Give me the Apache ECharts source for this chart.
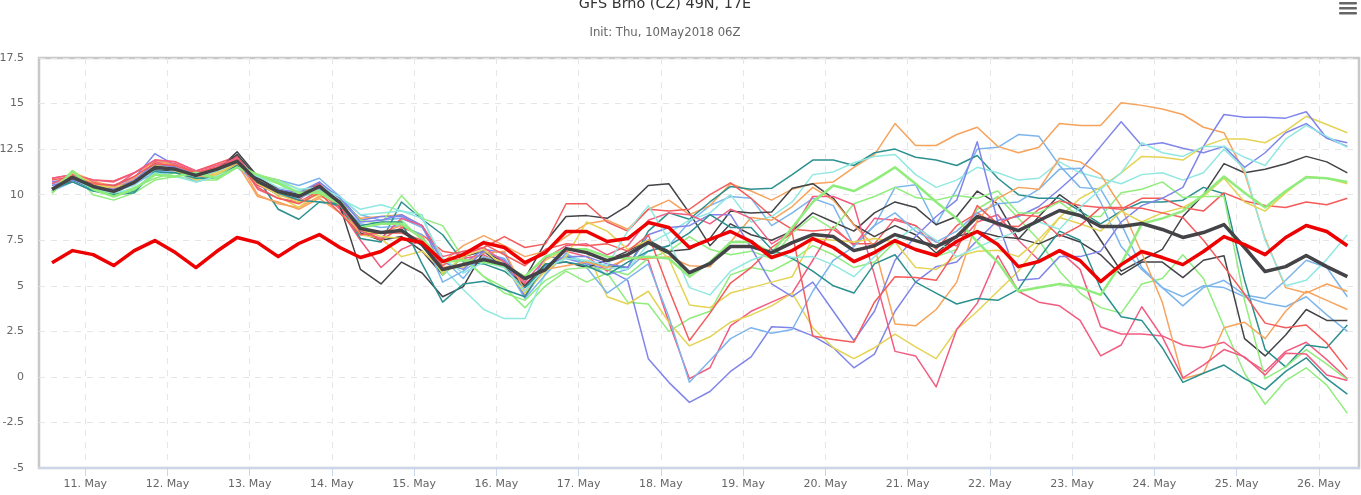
<!DOCTYPE html>
<html>
<head>
<meta charset="utf-8">
<title>GFS Brno</title>
<script src="https://cdn.jsdelivr.net/npm/echarts@6/dist/echarts.min.js"></script>
<style>
  html, body { margin: 0; padding: 0; background: #fff; }
  #chart { width: 1361px; height: 495px; }
</style>
</head>
<body>
<div id="chart"></div>
<script>
// hours after 11 May 00 local, one forecast step every 6 h
const firstHour = -9.7
const stepHours = 6
const dayTicks = [0, 24, 48, 72, 96, 120, 144, 168, 192, 216, 240, 264, 288, 312, 336, 360]
const dayLabels = ['11. May', '12. May', '13. May', '14. May', '15. May', '16. May', '17. May', '18. May',
  '19. May', '20. May', '21. May', '22. May', '23. May', '24. May', '25. May', '26. May']

const blue1 = [10.6,10.9,10.3,10.0,10.7,11.3,11.3,10.8,11.3,11.6,11.0,10.8,10.5,10.9,9.9,
  8.9,8.6,8.7,8.2,6.5,5.4,6.8,6.5,4.9,5.9,6.7,6.3,5.6,5.9,
  6.9,7.2,8.5,9.4,9.9,9.8,8.3,9.0,9.8,9.4,7.2,8.3,10.4,10.55,8.35,10.3,12.5,12.6,13.3,13.2,11.6,10.4,10.3,8.4,
  6.0,4.9,3.9,4.9,5.3,4.5,4.3,5.3,6.4,6.0,4.4]
const dark1 = [10.2,10.9,10.5,10.2,10.6,11.4,11.3,11.1,11.3,12.35,11.0,10.2,9.9,10.4,9.3,
  7.9,7.5,7.7,6.9,5.6,6.6,6.9,6.3,5.4,7.4,8.8,8.85,8.7,9.4,
  10.5,10.6,9.0,7.2,8.4,7.8,7.5,8.0,9.0,8.5,8.0,9.0,9.6,9.3,8.35,8.8,10.2,9.5,7.55,8.8,10.0,9.2,7.5,5.8,
  6.4,7.0,8.8,10.0,11.7,11.2,11.4,11.7,12.1,11.8,11.2]
const green2 = [10.1,11.2,10.0,9.7,10.1,10.8,11.0,10.8,10.8,11.5,11.0,10.6,10.0,10.0,9.6,
  8.0,7.6,8.6,7.5,5.6,6.6,5.5,4.9,3.8,5.0,5.8,5.2,5.7,4.1,
  4.0,2.5,3.2,3.6,5.6,6.0,5.8,6.4,7.2,6.7,6.0,6.3,7.4,7.0,6.6,7.0,9.2,9.9,8.7,7.5,5.8,4.6,3.8,3.5,
  5.1,5.4,6.7,5.4,2.75,0.2,-1.5,-0.2,0.5,-0.45,-2.0]
const orange1 = [10.3,11.0,10.7,10.5,10.7,11.8,11.5,11.2,11.2,12.0,10.0,9.5,9.3,9.9,9.6,
  8.7,8.8,8.9,8.3,6.3,7.2,7.75,7.2,6.6,6.9,7.7,8.4,8.6,8.1,
  9.2,9.7,8.9,9.4,10.6,10.2,9.7,10.3,10.6,10.7,11.5,12.2,13.9,12.7,12.7,13.3,13.7,12.65,12.3,12.6,13.9,13.8,13.8,15.05,
  14.9,14.7,14.4,13.7,13.4,11.2,7.6,4.9,4.6,5.1,4.7]
const purple1 = [10.7,10.9,10.6,10.5,10.9,12.25,11.6,11.0,11.3,12.1,10.7,10.0,10.0,10.5,9.9,
  8.6,8.8,8.8,8.3,5.9,6.2,7.0,6.8,4.6,6.6,6.5,6.2,5.9,5.3,
  1.0,-0.3,-1.4,-0.8,0.3,1.1,2.75,2.7,2.25,1.6,0.5,1.25,3.6,5.2,6.05,6.3,7.5,8.6,8.8,9.35,10.3,11.3,12.65,14.0,
  12.7,12.85,12.55,12.3,12.65,11.5,12.3,13.4,13.9,13.1,12.85]
const pink1 = [10.6,11.1,10.7,10.4,11.2,11.8,11.7,11.2,11.5,12.0,10.3,9.8,9.6,10.2,9.2,
  7.5,6.0,7.0,7.5,6.3,6.5,6.7,6.1,5.1,6.0,6.9,6.6,5.8,6.6,
  6.4,3.0,-0.1,0.5,2.8,3.6,4.1,4.6,6.4,8.25,7.2,8.7,8.6,8.3,7.4,7.2,8.5,8.9,7.5,6.4,6.9,5.9,2.75,2.35,
  2.35,2.25,1.75,1.6,1.9,1.05,0.3,1.4,1.9,0.95,-0.1]
const yellow1 = [10.3,11.3,10.6,10.3,10.8,11.7,11.3,10.9,11.2,11.9,10.9,9.9,9.3,10.2,9.4,
  7.8,7.6,6.6,6.9,5.9,6.0,6.6,6.3,4.5,6.4,7.0,6.9,4.4,4.0,
  4.7,3.0,1.7,2.2,3.0,3.4,3.9,4.6,2.7,1.6,1.0,1.6,2.35,1.65,1.0,2.6,3.6,4.7,5.8,7.3,8.75,9.8,10.4,11.2,
  12.1,12.05,11.9,12.65,13.05,13.05,12.85,13.5,14.3,13.85,13.4]
const teal1 = [10.2,10.8,10.3,10.0,10.1,11.3,11.2,10.9,11.0,11.6,10.9,9.2,8.65,9.6,9.4,
  7.6,7.4,9.6,8.65,7.8,6.3,6.2,5.8,4.9,6.0,6.6,6.3,6.1,6.0,
  8.0,9.0,8.65,9.6,10.45,10.3,10.35,11.1,11.9,11.9,11.6,12.3,12.5,12.05,11.9,11.6,12.15,10.9,10.0,9.8,9.8,9.1,8.4,9.1,
  9.6,9.6,9.7,10.4,10.05,5.3,1.5,0.55,1.75,1.6,2.85]
const red1 = [10.9,11.1,10.8,10.75,11.2,11.9,11.8,11.3,11.7,12.1,10.6,10.0,9.7,10.6,9.3,
  8.1,7.5,8.2,7.8,6.9,6.7,7.1,7.7,7.1,7.3,9.5,9.5,8.5,8.0,
  9.2,9.1,9.2,10.0,10.65,9.8,8.8,8.1,8.0,8.1,7.3,7.3,8.7,8.3,7.0,8.3,9.0,8.3,8.25,9.2,9.65,9.4,9.3,9.2,
  9.8,9.8,9.3,9.1,10.1,9.65,9.4,9.3,9.6,9.45,9.8]
const cyan1 = [10.3,11.0,10.5,10.2,10.5,11.4,11.4,10.9,11.3,11.7,11.0,10.4,10.2,10.6,9.8,
  9.2,9.45,9.1,8.9,6.0,4.8,3.7,3.2,3.2,5.7,6.7,6.3,6.0,5.9,
  7.3,7.9,8.6,9.0,10.0,8.5,8.8,9.6,11.1,11.25,11.75,12.1,12.2,11.1,10.4,10.8,11.5,11.2,10.8,10.9,11.8,11.2,10.9,10.6,
  11.1,11.2,10.8,11.2,12.5,11.4,7.5,5.0,5.3,6.45,7.8]
const blue2 = [10.2,10.7,10.2,10.1,10.6,11.2,11.3,10.7,11.0,11.5,10.6,10.0,9.8,10.3,9.5,
  8.4,8.2,8.3,7.8,5.2,5.8,6.6,6.2,4.3,5.6,6.8,6.0,4.6,5.4,
  6.2,3.3,-0.3,0.9,2.1,2.7,2.4,2.6,4.7,6.4,7.15,8.3,9.0,8.0,7.4,8.0,9.0,9.5,9.6,10.3,11.4,11.45,9.6,7.15,
  5.9,4.9,4.4,5.0,4.9,4.4,4.05,3.85,4.4,3.4,2.5]
const dark2 = [10.3,10.8,10.4,10.1,10.7,11.4,11.5,11.0,11.4,12.2,10.9,10.3,10.0,10.6,9.4,
  5.9,5.1,6.3,5.7,4.4,4.95,6.9,6.0,5.0,6.2,6.3,6.0,6.4,6.9,
  7.5,6.9,7.0,7.6,9.1,9.0,9.05,10.35,10.6,9.8,8.35,7.7,8.3,7.8,6.8,7.7,8.0,7.7,7.6,7.3,7.8,7.4,6.7,5.6,
  6.3,6.3,5.45,6.4,6.65,2.1,1.15,2.3,3.7,3.1,3.1]
const green3 = [10.2,11.1,10.4,10.0,10.4,10.9,11.2,11.1,11.0,11.7,11.1,10.8,10.3,10.2,9.7,
  8.6,8.4,9.95,8.7,8.3,6.5,5.5,4.6,4.2,5.3,5.9,6.0,5.9,5.6,
  6.5,6.9,7.7,7.0,6.7,6.9,6.5,7.9,8.8,8.1,9.5,9.9,10.4,9.85,9.7,9.95,9.8,10.2,9.0,9.0,9.6,8.8,8.8,10.1,
  10.3,10.7,9.85,9.9,9.9,4.2,-0.1,0.55,1.5,0.7,-0.15]
const orange2 = [10.1,11.2,10.8,10.3,10.9,11.9,11.6,11.0,11.1,11.7,9.9,9.6,9.2,9.8,9.0,
  8.0,7.9,8.3,7.7,6.0,6.2,6.8,6.9,4.7,5.9,6.1,6.3,6.0,6.5,
  6.5,6.6,6.1,6.05,7.4,8.75,8.6,9.35,10.4,9.7,8.35,7.15,2.9,2.8,3.7,5.2,8.6,9.8,10.4,10.3,12.0,11.8,11.1,9.35,
  6.8,4.1,-0.1,0.2,2.7,3.0,2.1,3.6,4.7,4.2,3.7]
const purple2 = [10.5,10.8,10.4,10.3,10.8,11.7,11.5,11.1,11.4,11.8,10.6,10.3,10.1,10.7,9.8,
  8.5,8.6,8.9,8.3,6.3,5.9,6.9,6.4,4.4,6.1,6.6,6.6,6.2,6.0,
  7.8,8.2,8.3,8.9,8.9,7.1,5.1,4.4,5.2,3.6,2.0,3.6,6.4,7.7,8.8,9.7,12.9,8.5,5.3,5.4,6.6,6.6,6.9,8.5,
  9.4,9.8,10.4,12.65,14.4,14.25,14.25,14.2,14.55,13.1,12.65]
const pink2 = [10.9,11.1,10.8,10.7,11.2,11.9,11.8,11.3,11.6,12.0,10.5,10.1,9.9,10.6,9.4,
  8.0,7.6,8.7,8.3,6.6,6.9,7.1,6.3,5.2,6.5,7.2,7.3,6.7,7.2,
  8.6,9.0,8.9,8.4,9.2,8.7,7.3,8.0,9.9,9.9,9.45,5.6,1.4,1.15,-0.55,2.6,4.05,6.65,4.7,4.1,3.9,3.1,1.15,1.75,
  3.85,2.2,-0.05,0.65,1.5,1.1,0.1,1.3,1.25,0.1,-0.2]
const yellow2 = [10.2,11.2,10.6,10.4,10.6,11.6,11.3,10.8,11.1,11.8,10.6,10.0,9.6,10.0,9.5,
  8.1,7.7,7.6,7.3,5.7,6.6,7.0,6.0,4.6,5.8,6.6,8.5,8.0,7.0,
  7.5,6.5,3.95,3.8,4.6,4.9,5.2,5.5,7.6,7.5,7.4,7.6,7.4,6.0,5.9,6.6,6.9,6.95,6.6,7.55,8.75,8.4,8.0,9.1,
  8.5,9.0,9.3,9.9,10.9,9.6,9.1,10.1,11.0,10.9,10.6]
const teal2 = [10.3,10.7,10.2,10.0,10.2,11.2,11.2,10.9,10.9,11.6,10.8,10.1,9.7,9.6,9.5,
  8.3,8.5,8.5,6.2,4.1,5.1,5.25,4.8,4.4,6.2,6.3,6.1,5.6,6.3,
  6.9,7.2,7.9,8.9,8.2,8.2,7.0,6.5,5.8,5.0,4.6,6.2,6.7,5.2,4.6,4.0,4.3,4.2,4.8,6.5,8.0,7.5,4.85,3.3,
  3.1,1.6,-0.3,0.2,0.65,-0.1,-0.7,0.3,1.05,-0.1,-0.95]
const red2 = [10.8,11.0,10.6,10.5,11.0,11.7,11.6,11.2,11.5,11.9,10.4,9.8,9.5,10.1,9.0,
  7.8,7.9,7.9,7.5,6.1,6.8,7.3,6.7,6.1,7.0,7.3,7.2,7.3,6.9,
  7.8,4.8,2.0,3.5,5.15,6.0,7.1,7.9,2.25,2.05,1.9,4.1,5.5,5.45,5.3,7.0,9.4,8.4,8.9,8.8,7.7,8.3,9.3,9.3,
  9.25,9.0,8.75,7.5,6.05,4.55,2.95,2.7,2.85,1.85,0.4]
const cyan2 = [10.2,10.9,10.3,10.1,10.3,11.2,11.0,10.7,11.0,11.5,11.0,10.7,10.3,10.4,9.9,
  8.9,9.0,9.1,8.7,6.5,5.7,6.3,6.0,4.7,6.0,6.5,6.4,6.1,8.0,
  9.4,7.5,4.9,4.5,5.8,6.4,6.8,6.55,6.6,6.15,5.5,6.6,7.5,8.2,7.5,6.6,7.1,7.6,8.0,8.5,8.1,9.3,10.3,11.2,
  12.85,12.3,12.1,12.65,12.65,12.05,11.6,13.05,13.8,13.2,12.6]
const control = [10.1,11.3,10.3,9.9,10.3,11.1,11.0,11.2,10.9,11.5,11.1,10.65,10.1,10.1,9.5,
  8.2,8.4,8.4,7.6,6.3,6.4,6.3,6.1,5.5,6.6,7.0,7.0,6.6,6.5,
  6.6,6.5,5.5,6.3,7.4,7.4,6.8,8.2,9.6,10.5,10.2,10.8,11.5,10.6,9.6,8.7,7.4,6.3,4.7,4.9,5.1,4.9,4.5,6.2,
  8.4,8.7,9.1,10.0,11.0,10.1,9.3,10.2,10.95,10.9,10.7]
const ensembleMean = [10.29,10.95,10.45,10.18,10.67,11.5,11.39,11.06,11.39,11.83,10.73,10.18,9.9,10.45,9.57,
  8.14,7.92,8.03,7.26,5.89,6.16,6.44,6.16,5.39,5.89,7.04,6.82,6.38,6.71,
  7.37,6.82,5.72,6.22,7.15,7.15,6.82,7.37,7.81,7.7,6.93,7.2,7.81,7.48,7.15,7.7,8.8,8.42,8.03,8.58,9.13,8.86,8.25,8.25,
  8.42,8.09,7.65,7.92,8.36,7.1,5.78,6.05,6.66,6.05,5.5]
const climate = [6.27,6.93,6.71,6.11,6.93,7.48,6.82,6.0,6.88,7.65,7.37,6.6,7.32,7.81,7.1,
  6.55,6.88,7.59,7.37,6.33,6.71,7.37,7.1,6.27,6.82,7.98,7.98,7.43,7.59,
  8.47,8.2,7.1,7.54,7.98,7.43,6.55,6.93,7.59,7.1,6.33,6.82,7.48,6.99,6.66,7.43,7.98,7.26,6.05,6.33,6.93,6.38,5.23,6.16,
  6.88,6.55,6.16,6.88,7.7,7.26,6.71,7.65,8.31,7.98,7.2]

const members = [
  ['#7cb5ec', blue1], ['#434348', dark1], ['#90ed7d', green2], ['#f7a35c', orange1], ['#8085e9', purple1],
  ['#f15c80', pink1], ['#e4d354', yellow1], ['#2b908f', teal1], ['#f45b5b', red1], ['#91e8e1', cyan1],
  ['#7cb5ec', blue2], ['#434348', dark2], ['#90ed7d', green3], ['#f7a35c', orange2], ['#8085e9', purple2],
  ['#f15c80', pink2], ['#e4d354', yellow2], ['#2b908f', teal2], ['#f45b5b', red2], ['#91e8e1', cyan2]
]

const withHours = (values) => values.map((v, i) => [firstHour + i * stepHours, v])

const lineSeries = (color, values, width, z) => ({
  type: 'line',
  data: withHours(values),
  symbol: 'none',
  z: z,
  silent: true,
  lineStyle: { color: color, width: width, join: 'round' }
})

const series = members.map(m => lineSeries(m[0], m[1], 1.5, 2))
series.push(lineSeries('#90ed7d', control, 2.5, 3))
series.push(lineSeries('#434348', ensembleMean, 3.5, 4))
series.push(lineSeries('#ee0000', climate, 3.5, 5))

const fontFamily = '"DejaVu Sans", sans-serif'

const option = {
  animation: false,
  backgroundColor: '#fff',
  title: [
    {
      text: 'GFS Brno (CZ) 49N, 17E',
      left: 665, top: -3, padding: 0, textAlign: 'center',
      textStyle: { color: '#333', fontFamily: fontFamily, fontSize: 14.4, fontWeight: 'normal' }
    },
    {
      text: 'Init: Thu, 10May2018 06Z',
      left: 665, top: 27, padding: 0, textAlign: 'center',
      textStyle: { color: '#666', fontFamily: fontFamily, fontSize: 11.7, fontWeight: 'normal' }
    }
  ],
  grid: {
    left: 39, right: 2, top: 58, bottom: 27,
    outerBoundsMode: 'none',
    show: true, borderColor: '#c8c8c8', borderWidth: 2.5
  },
  xAxis: {
    type: 'value',
    min: -13.5,
    max: 371.7,
    axisLine: { show: true, onZero: false, lineStyle: { color: '#ccd6eb', width: 2 } },
    axisTick: { show: true, length: 8, customValues: dayTicks, lineStyle: { color: '#ccd6eb' } },
    splitLine: { show: true, lineStyle: { color: '#e6e6e6', type: [6, 6], width: 1 } },
    axisLabel: {
      customValues: dayTicks,
      color: '#666',
      fontFamily: fontFamily,
      fontSize: 11,
      margin: 11,
      formatter: (v) => dayLabels[dayTicks.indexOf(v)]
    }
  },
  yAxis: {
    type: 'value',
    min: -5,
    max: 17.5,
    interval: 2.5,
    axisLine: { show: false },
    axisTick: { show: false },
    splitLine: { show: true, lineStyle: { color: '#e6e6e6', type: [6, 6], width: 1 } },
    axisLabel: { color: '#666', fontFamily: fontFamily, fontSize: 11, margin: 15 }
  },
  series: series,
  graphic: [
    { type: 'rect', shape: { x: 1339, y: 2, width: 18, height: 2.5, r: 1 }, style: { fill: '#666' } },
    { type: 'rect', shape: { x: 1339, y: 7, width: 18, height: 2.5, r: 1 }, style: { fill: '#666' } },
    { type: 'rect', shape: { x: 1339, y: 12, width: 18, height: 2.5, r: 1 }, style: { fill: '#666' } }
  ]
}

const chart = echarts.init(document.getElementById('chart'), null, { renderer: 'canvas' })
chart.setOption(option)
</script>
</body>
</html>
